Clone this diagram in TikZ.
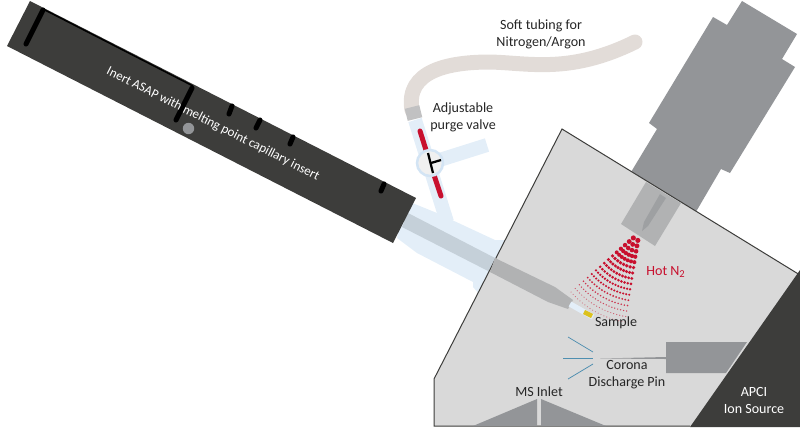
\documentclass[tikz,border=0pt]{standalone}
\usepackage{xcolor}
\usepackage{fontspec}
\setmainfont{Carlito}
\usepackage{tikz}
\usetikzlibrary{calc, positioning}
\definecolor{probeDark}{HTML}{3D3D3B}
\definecolor{heaterGray}{HTML}{939598}
\definecolor{boxGray}{HTML}{D9D9D9}
\definecolor{innerGray}{HTML}{B1B2B3}
\definecolor{glassBlue}{HTML}{E3EEF8}
\definecolor{ringBlue}{HTML}{D3E4F4}
\definecolor{coreBlue}{HTML}{C5D0D9}
\definecolor{tubeBeige}{HTML}{E2DCD8}
\definecolor{sprayRed}{HTML}{C8102E}
\definecolor{pinBlue}{HTML}{4F8FB0}
\definecolor{sampleYellow}{HTML}{DCC11D}
\tikzset{
    textlabel/.style={font=\fontsize{8}{9.6}\selectfont, color=black!85, align=center, inner sep=0pt},
    whitelabel/.style={textlabel, color=white},
    notch/.style={line width=0.1cm, line cap=round, color=black},
    glass/.style={line width=0.28cm, color=glassBlue},
    redbar/.style={line width=0.1cm, line cap=round, color=sprayRed},
    valvebar/.style={line width=0.045cm, color=black}
}

\begin{document}
\begin{tikzpicture}[x=0.02cm, y=-0.02cm]
    \useasboundingbox (0,0) rectangle (800,427);

    % Soft tubing
    \draw[line width=0.3cm, color=tubeBeige, line cap=round] (412,110) .. controls (405,70) and (450,62) .. (490,62) .. controls (530,63) and (570,74) .. (635,42);

    % Valve arms
    \draw[glass] (415,120) -- (447,222);
    \draw[glass] (430,163) -- (487,145);
    \draw[line width=0.3cm, color=innerGray!80] (412,107) -- (415,119);

    % Glass body and core
    \fill[glassBlue] (405,200) -- (437,213) -- (495,240) -- (507,240) -- (480,295) -- (473,287) -- (473,282) -- (417,253) -- (397,238) -- cycle;
    \fill[coreBlue] (408,213) -- (495,258) -- (490,272) -- (402,227) -- cycle;

    % Valve
    \draw[redbar] (420,131) -- (426,150);
    \draw[redbar] (434,175) -- (441,196);
    \node[circle, draw=ringBlue, line width=0.05cm, fill=black!6, minimum size=0.52cm, inner sep=0pt] (valve) at (430,163) {};
    \draw[valvebar] (428,153) -- (433,173);
    \draw[valvebar] (431,163) -- (441,160);

    % Probe
    \fill[probeDark] (30,1) -- (416,198) -- (393,243) -- (7,46) -- cycle;
    \draw[line width=0.03cm, color=black] (43,9) -- (193,86);
    \draw[notch] (43,10) -- (26,44);
    \draw[notch] (192,88) -- (176,120);
    \draw[notch] (232,106) -- (229,114);
    \draw[notch] (260,120) -- (256,128);
    \draw[notch] (293,137) -- (290,144);
    \draw[notch] (384,184) -- (381,191);
    \fill[heaterGray] (188.5,128.5) circle (5.7);
    \node[whitelabel, font=\fontsize{7.4}{9}\selectfont, rotate=-26.8] (probetext) at (213,124) {Inert ASAP with melting point capillary insert};

    % Heater
    \fill[heaterGray] (742,1) -- (797,34) -- (782,59) -- (795,67) -- (730,173) -- (721,169) -- (690,222) -- (625,182) -- (657,129) -- (649,123) -- (713,17) -- (727,25) -- cycle;

    % Source housing
    \fill[boxGray] (562,129) -- (800,275) -- (800,426) -- (434,426) -- (434,379) -- cycle;
    \fill[probeDark] (800,270) -- (690,427) -- (800,427) -- cycle;
    \draw[line width=0.02cm, color=probeDark] (800,275) -- (562,129) -- (434,379) -- (434,426) -- (690,426);

    % Gas nozzle
    \fill[innerGray] (646,182) -- (681,203) -- (655,246) -- (621,224) -- cycle;
    \fill[heaterGray!90] (660,194) -- (666,198) -- (648,226) -- (642,231) -- (644,222) -- cycle;

    % Spray
    \foreach \r in {1,...,16} {
        \pgfmathtruncatemacro{\num}{1.3*\r}
        \foreach \a in {0,...,\num} {
            \pgfmathsetmacro{\fade}{min(1,1.9-\r/12)}
            \pgfmathsetmacro{\ang}{99+40*\a/\num}
            \pgfmathsetmacro{\rad}{2+5.5*\r}
            \pgfmathsetmacro{\dotr}{max(0.55,2.7-0.14*\r)}
            \fill[sprayRed, opacity=\fade] ($(639,233)+({\rad*cos(\ang)},{\rad*sin(\ang)})$) circle (\dotr);
        }
    }

    % Probe tip and sample
    \fill[innerGray] (495,258) -- (555,287) -- (573,300) -- (568,309) -- (548,302) -- (490,272) -- cycle;
    \draw[line width=0.11cm, color=glassBlue] (570,304) -- (593,317);
    \draw[line width=0.09cm, color=sampleYellow] (584,312) -- (592,316);

    % Corona pin
    \fill[heaterGray] (666,342) -- (747,342) -- (726,373) -- (666,373) -- cycle;
    \fill[heaterGray] (666,357) -- (666,359) -- (600,358.5) -- cycle;
    \draw[line width=0.015cm, color=pinBlue] (568,337) -- (593,352);
    \draw[line width=0.015cm, color=pinBlue] (563,358) -- (593,358);
    \draw[line width=0.015cm, color=pinBlue] (568,379) -- (593,364);

    % MS inlet
    \fill[heaterGray] (473,426) -- (537,399) -- (537,426) -- cycle;
    \fill[heaterGray] (541,399) -- (606,426) -- (541,426) -- cycle;

    % Labels
    \node[textlabel] (tubing) at (541,34.5) {Soft tubing for\\Nitrogen/Argon};
    \node[textlabel] (purge) at (463,117.5) {Adjustable\\purge valve};
    \node[textlabel, color=sprayRed] (hot) at (666,272) {Hot N\textsubscript{2}};
    \node[textlabel] (sample) at (616,323) {Sample};
    \node[textlabel] (corona) at (627,375) {Corona\\Discharge Pin};
    \node[textlabel] (inlet) at (539,392) {MS Inlet};
    \node[whitelabel] (source) at (754,400.5) {APCI\\Ion Source};
\end{tikzpicture}
\end{document}
